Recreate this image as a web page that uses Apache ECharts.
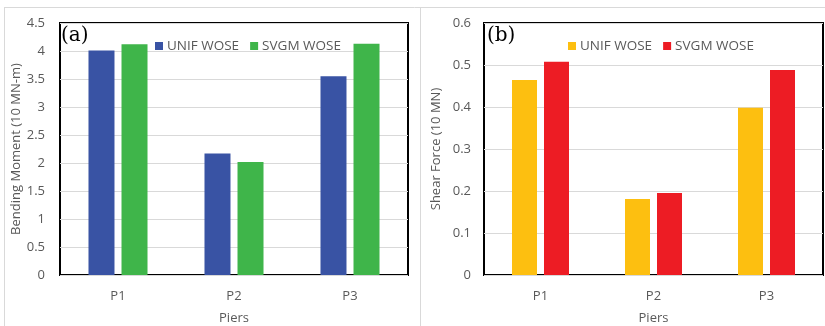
<!DOCTYPE html>
<html>
<head>
<meta charset="utf-8">
<script src="https://cdn.jsdelivr.net/npm/echarts@6/dist/echarts.min.js"></script>
<style>
  html, body { margin: 0; padding: 0; background: #fff; }
  #chart { width: 825px; height: 326px; }
</style>
</head>
<body>
<div id="chart"></div>
<script>
// Pier categories shared by both panels
const piers = ['P1', 'P2', 'P3'];
const seriesNames = ['UNIF WOSE', 'SVGM WOSE'];

// (a) Bending moment, units of 10 MN-m
const momentUnif = [4.01, 2.17, 3.55];
const momentSvgm = [4.12, 2.02, 4.13];

// (b) Shear force, units of 10 MN
const shearUnif = [0.464, 0.181, 0.398];
const shearSvgm = [0.508, 0.195, 0.488];

const colA = ['#3953A4', '#3FB54A'];
const colB = ['#FDBF10', '#ED1C24'];

const font = '"Open Sans", sans-serif';
const gray = '#595959';
const fs = 13;

function yAxis(gridIndex, max, interval, name, nameGap, margin) {
  return {
    gridIndex, type: 'value', min: 0, max, interval,
    name, nameLocation: 'middle', nameGap,
    nameTextStyle: { fontFamily: font, fontSize: fs, color: gray },
    axisLine: { show: false }, axisTick: { show: false },
    axisLabel: { fontFamily: font, fontSize: fs, color: gray, margin },
    splitLine: { lineStyle: { color: '#d9d9d9', width: 1 } }
  };
}

function xAxis(gridIndex) {
  return {
    gridIndex, type: 'category', data: piers,
    name: 'Piers', nameLocation: 'middle', nameGap: 37,
    nameTextStyle: { fontFamily: font, fontSize: fs, color: gray },
    axisLine: { show: false }, axisTick: { show: false },
    axisLabel: { fontFamily: font, fontSize: fs, color: gray, margin: 15 }
  };
}

function legend(left, colors) {
  return {
    left, top: 34, icon: 'rect', itemWidth: 8, itemHeight: 8, itemGap: 11,
    selectedMode: false,
    textStyle: { fontFamily: font, fontSize: 13.5, color: gray, padding: [0, 0, 0, -1] },
    data: seriesNames.map((n, i) => ({ name: n, itemStyle: { color: colors[i] } }))
  };
}

const gridBase = {
  top: 23, height: 252, show: true, borderColor: '#000', borderWidth: 2,
  backgroundColor: 'transparent', containLabel: false, outerBoundsMode: 'none'
};

const option = {
  animation: false,
  backgroundColor: '#ffffff',
  grid: [
    Object.assign({ left: 60, width: 348 }, gridBase),
    Object.assign({ left: 484, width: 339 }, gridBase)
  ],
  xAxis: [xAxis(0), xAxis(1)],
  yAxis: [
    yAxis(0, 4.5, 0.5, 'Bending Moment (10 MN-m)', 31, 15),
    yAxis(1, 0.6, 0.1, 'Shear Force (10 MN)', 41, 13)
  ],
  legend: [legend(150, colA), legend(563, colB)],
  series: [
    { name: seriesNames[0], type: 'bar', xAxisIndex: 0, yAxisIndex: 0, data: momentUnif,
      barWidth: 26, barGap: '27%', itemStyle: { color: colA[0] } },
    { name: seriesNames[1], type: 'bar', xAxisIndex: 0, yAxisIndex: 0, data: momentSvgm,
      barWidth: 26, barGap: '27%', itemStyle: { color: colA[1] } },
    { name: seriesNames[0], type: 'bar', xAxisIndex: 1, yAxisIndex: 1, data: shearUnif,
      barWidth: 25, barGap: '28%', itemStyle: { color: colB[0] } },
    { name: seriesNames[1], type: 'bar', xAxisIndex: 1, yAxisIndex: 1, data: shearSvgm,
      barWidth: 25, barGap: '28%', itemStyle: { color: colB[1] } }
  ],
  graphic: [
    // outer panel frames
    { type: 'line', shape: { x1: 4, y1: 7.5, x2: 825, y2: 7.5 }, style: { stroke: '#d9d9d9', lineWidth: 1 }, z: -1 },
    { type: 'line', shape: { x1: 4.5, y1: 7, x2: 4.5, y2: 326 }, style: { stroke: '#d9d9d9', lineWidth: 1 }, z: -1 },
    { type: 'line', shape: { x1: 420.5, y1: 7, x2: 420.5, y2: 326 }, style: { stroke: '#d9d9d9', lineWidth: 1 }, z: -1 },
    // panel tags
    { type: 'text', left: 61, top: 26, z: 10,
      style: { text: '(a)', fontFamily: '"DejaVu Serif", serif', fontSize: 20, fill: '#000' } },
    { type: 'text', left: 487, top: 26, z: 10,
      style: { text: '(b)', fontFamily: '"DejaVu Serif", serif', fontSize: 20, fill: '#000' } }
  ]
};

const chart = echarts.init(document.getElementById('chart'), null, { renderer: 'canvas' });
chart.setOption(option);
</script>
</body>
</html>
